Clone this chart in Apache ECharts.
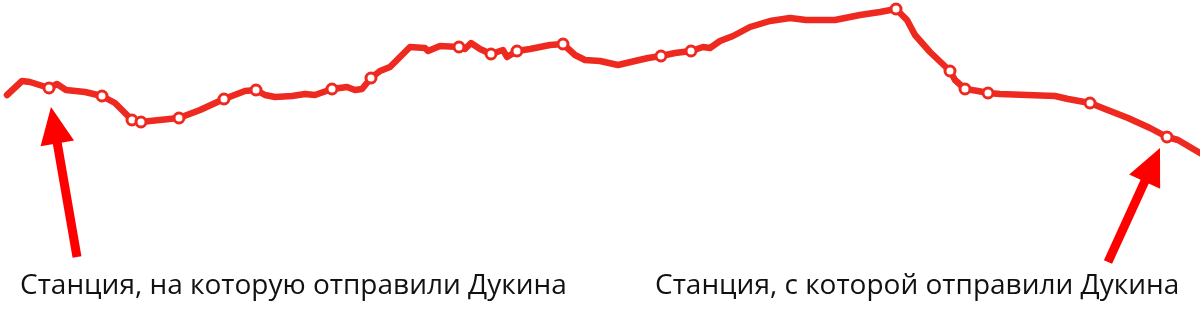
<!DOCTYPE html>
<html><head><meta charset="utf-8">
<script src="https://cdn.jsdelivr.net/npm/echarts@6/dist/echarts.min.js"></script>
<style>html,body{margin:0;padding:0;background:#fff}#c{width:1200px;height:323px}</style>
</head><body><div id="c"></div>
<script>
// Profile: distance along route (px-scale units) and relative height
const distance = [7,22,30,49,57,66,85,102,115,125,132,141,150,179,200,224,245,256,265,275,292,305,315,332,347,355,362,371,380,390,400,410,425,428,440,459,465,471,480,491,503,507,517,530,550,563,575,585,600,618,635,648,661,675,691,703,710,720,733,750,770,790,806,835,860,880,896,907,915,930,950,955,965,978,988,1000,1055,1068,1090,1105,1128,1150,1167,1178,1200];
const height = [228,242,241,235,239,233,231,227,220,210,203,201,202,205,213,224,232,233,228,226,227,229,228,234,236,233,234,245,252,256,266,276,275,272,277,276,274,280,274,269,273,266,272,274,278,279,268,263,262,258,262,265,267,270,272,276,275,282,287,296,302,305,303,303,308,311,314,303,288,271,252,243,234,232,230,229,227,224,220,214,205,195,186,183,170];
const stationDistance = [49,102,132,141,179,224,256,332,371,459,491,517,563,661,691,896,950,965,988,1090,1167];
// Arrows: [fromX, fromY, toX, toY]
const arrows = [[77,66,51,216],[1108,61,1160,175]];
const labels = ['Станция, на которую отправили Дукина','Станция, с которой отправили Дукина'];

const lineData = distance.map((d,i)=>[d,height[i]]);
const stationData = stationDistance.map(d=>[d,height[distance.indexOf(d)]]);

const chart = echarts.init(document.getElementById('c'));
chart.setOption({
  animation:false,
  grid:{left:0,right:0,top:0,bottom:0},
  xAxis:{type:'value',min:0,max:1200,show:false},
  yAxis:{type:'value',min:0,max:323,show:false},
  graphic:[
    {type:'text',left:20,top:272,style:{text:labels[0],font:'28px "Open Sans"',fill:'#111'}},
    {type:'text',left:655,top:272,style:{text:labels[1],font:'28px "Open Sans"',fill:'#111'}}
  ],
  series:[
    {type:'line',data:lineData,smooth:false,symbol:'none',lineStyle:{color:'#ee2a20',width:6.5,join:'round',cap:'round'},z:2},
    {type:'scatter',data:stationData,symbol:'circle',symbolSize:10,itemStyle:{color:'#fff',borderColor:'#ee2a20',borderWidth:3,opacity:1},z:3},
    {type:'custom',data:arrows,z:4,renderItem:function(params,api){
      const p0=api.coord([api.value(0),api.value(1)]);
      const p1=api.coord([api.value(2),api.value(3)]);
      const dx=p1[0]-p0[0], dy=p1[1]-p0[1], L=Math.sqrt(dx*dx+dy*dy);
      const ux=dx/L, uy=dy/L, nx=-uy, ny=ux;
      const hl=37, hw=17;
      const bx=p1[0]-ux*hl, by=p1[1]-uy*hl;
      return {type:'group',children:[
        {type:'line',shape:{x1:p0[0],y1:p0[1],x2:bx+ux*2,y2:by+uy*2},style:{stroke:'#ff0000',lineWidth:9}},
        {type:'polygon',shape:{points:[[p1[0],p1[1]],[bx+nx*hw,by+ny*hw],[bx-nx*hw,by-ny*hw]]},style:{fill:'#ff0000'}}
      ]};
    }}
  ]
});
</script></body></html>
